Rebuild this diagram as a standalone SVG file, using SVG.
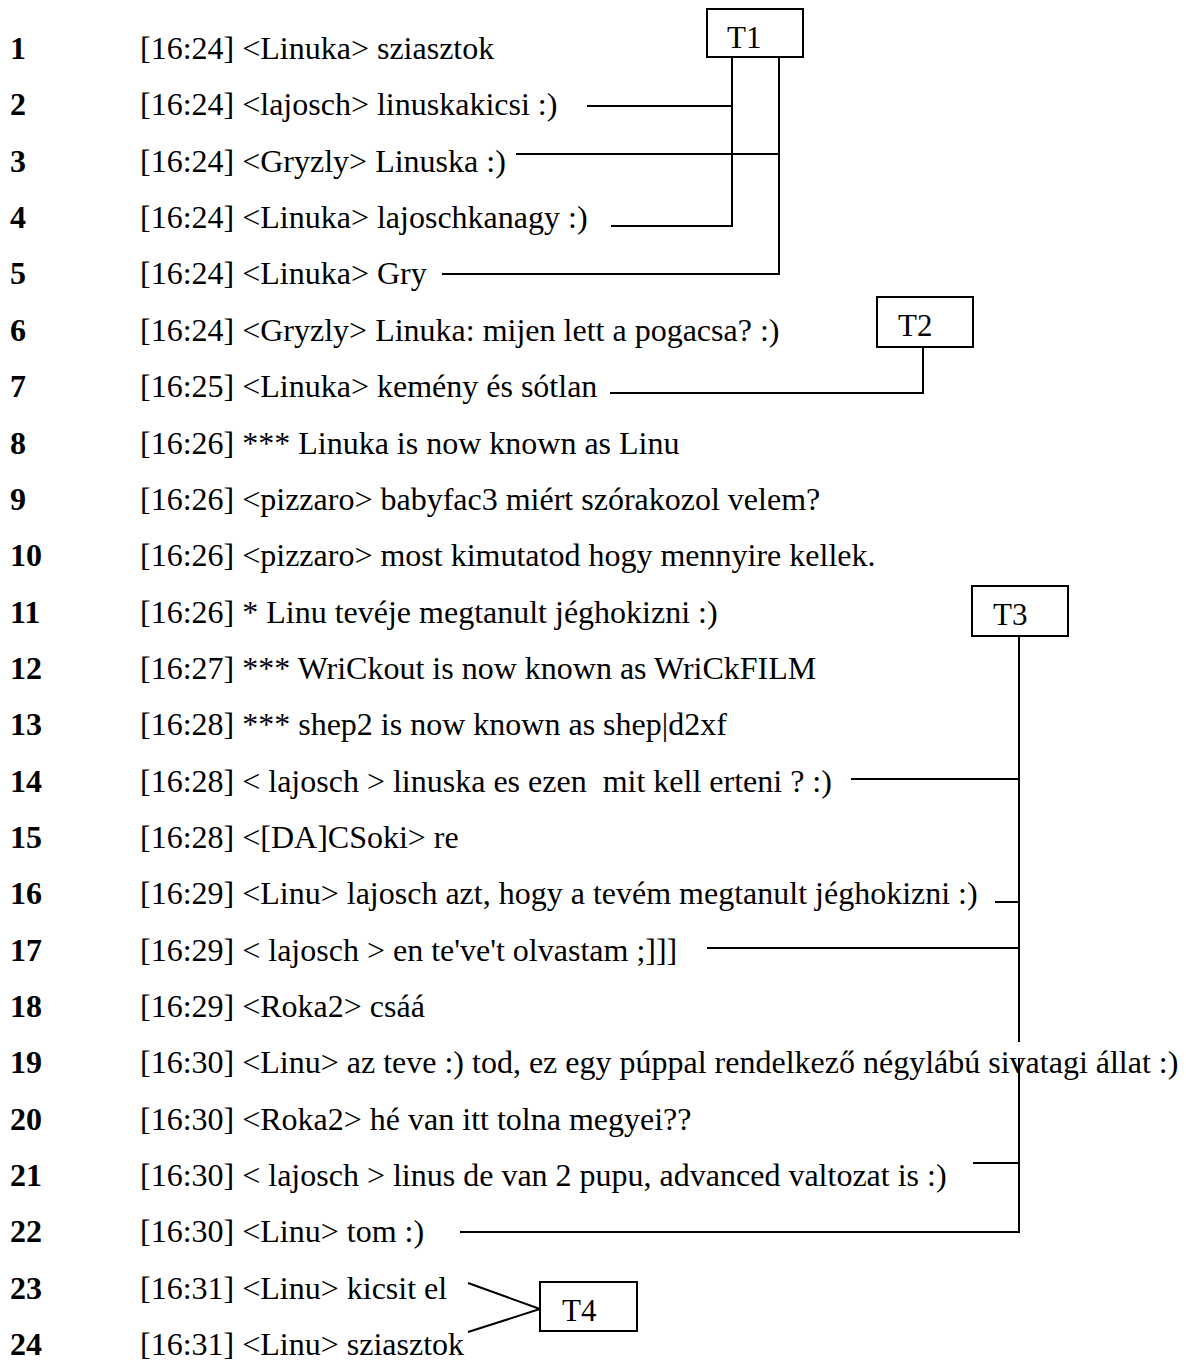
<svg xmlns="http://www.w3.org/2000/svg" width="1186" height="1362" viewBox="0 0 1186 1362">
<style>
.num{font-family:"Liberation Serif","Times New Roman",serif;font-size:32px;font-weight:bold;fill:#000}
.msg{font-family:"Liberation Serif","Times New Roman",serif;font-size:32px;fill:#000;white-space:pre}
.lbl{font-family:"Liberation Serif","Times New Roman",serif;font-size:31px;fill:#000}
.box{fill:#fff;stroke:#000;stroke-width:2}
.ln{fill:none;stroke:#000;stroke-width:2}
</style>
<rect width="1186" height="1362" fill="#fff"/>
<g id="rows">
<text class="num" x="10" y="59">1</text><text class="msg" x="140" y="59">[16:24] &lt;Linuka&gt; sziasztok</text>
<text class="num" x="10" y="115.4">2</text><text class="msg" x="140" y="115.4">[16:24] &lt;lajosch&gt; linuskakicsi :)</text>
<text class="num" x="10" y="171.7">3</text><text class="msg" x="140" y="171.7">[16:24] &lt;Gryzly&gt; Linuska :)</text>
<text class="num" x="10" y="228">4</text><text class="msg" x="140" y="228">[16:24] &lt;Linuka&gt; lajoschkanagy :)</text>
<text class="num" x="10" y="284.4">5</text><text class="msg" x="140" y="284.4">[16:24] &lt;Linuka&gt; Gry</text>
<text class="num" x="10" y="340.8">6</text><text class="msg" x="140" y="340.8">[16:24] &lt;Gryzly&gt; Linuka: mijen lett a pogacsa? :)</text>
<text class="num" x="10" y="397.1">7</text><text class="msg" x="140" y="397.1">[16:25] &lt;Linuka&gt; kemény és sótlan</text>
<text class="num" x="10" y="453.5">8</text><text class="msg" x="140" y="453.5">[16:26] *** Linuka is now known as Linu</text>
<text class="num" x="10" y="509.8">9</text><text class="msg" x="140" y="509.8">[16:26] &lt;pizzaro&gt; babyfac3 miért szórakozol velem?</text>
<text class="num" x="10" y="566.2">10</text><text class="msg" x="140" y="566.2">[16:26] &lt;pizzaro&gt; most kimutatod hogy mennyire kellek.</text>
<text class="num" x="10" y="622.5">11</text><text class="msg" x="140" y="622.5">[16:26] * Linu tevéje megtanult jéghokizni :)</text>
<text class="num" x="10" y="678.9">12</text><text class="msg" x="140" y="678.9">[16:27] *** WriCkout is now known as WriCkFILM</text>
<text class="num" x="10" y="735.2">13</text><text class="msg" x="140" y="735.2">[16:28] *** shep2 is now known as shep|d2xf</text>
<text class="num" x="10" y="791.6">14</text><text class="msg" x="140" y="791.6">[16:28] &lt; lajosch &gt; linuska es ezen  mit kell erteni ? :)</text>
<text class="num" x="10" y="847.9">15</text><text class="msg" x="140" y="847.9">[16:28] &lt;[DA]CSoki&gt; re</text>
<text class="num" x="10" y="904.3">16</text><text class="msg" x="140" y="904.3">[16:29] &lt;Linu&gt; lajosch azt, hogy a tevém megtanult jéghokizni :)</text>
<text class="num" x="10" y="960.6">17</text><text class="msg" x="140" y="960.6">[16:29] &lt; lajosch &gt; en te've't olvastam ;]]]</text>
<text class="num" x="10" y="1017">18</text><text class="msg" x="140" y="1017">[16:29] &lt;Roka2&gt; csáá</text>
<text class="num" x="10" y="1073.3">19</text><text class="msg" x="140" y="1073.3">[16:30] &lt;Linu&gt; az teve :) tod, ez egy púppal rendelkező négylábú sivatagi állat :)</text>
<text class="num" x="10" y="1129.7">20</text><text class="msg" x="140" y="1129.7">[16:30] &lt;Roka2&gt; hé van itt tolna megyei??</text>
<text class="num" x="10" y="1186">21</text><text class="msg" x="140" y="1186">[16:30] &lt; lajosch &gt; linus de van 2 pupu, advanced valtozat is :)</text>
<text class="num" x="10" y="1242.4">22</text><text class="msg" x="140" y="1242.4">[16:30] &lt;Linu&gt; tom :)</text>
<text class="num" x="10" y="1298.7">23</text><text class="msg" x="140" y="1298.7">[16:31] &lt;Linu&gt; kicsit el</text>
<text class="num" x="10" y="1355">24</text><text class="msg" x="140" y="1355">[16:31] &lt;Linu&gt; sziasztok</text>
</g>
<g id="connectors">
<path class="ln" d="M732 57 V226 H611 M587 106 H732 M779 57 V274 H442 M516 154 H779"/>
<path class="ln" d="M923 347 V393 H610"/>
<path class="ln" d="M1019 636 V1042 M1019 1058 V1232 H460 M851 779 H1019 M995 902 H1019 M707 948 H1019 M973 1163 H1019"/>
<path class="ln" d="M468 1283 L540 1309 L468 1332"/>
</g>
<g id="T1"><rect class="box" x="707" y="9" width="96" height="48"/><text class="lbl" x="727" y="48">T1</text></g>
<g id="T2"><rect class="box" x="877" y="297" width="96" height="50"/><text class="lbl" x="898" y="336">T2</text></g>
<g id="T3"><rect class="box" x="972" y="586" width="96" height="50"/><text class="lbl" x="993" y="625">T3</text></g>
<g id="T4"><rect class="box" x="540" y="1282" width="97" height="49"/><text class="lbl" x="562" y="1321">T4</text></g>
</svg>
